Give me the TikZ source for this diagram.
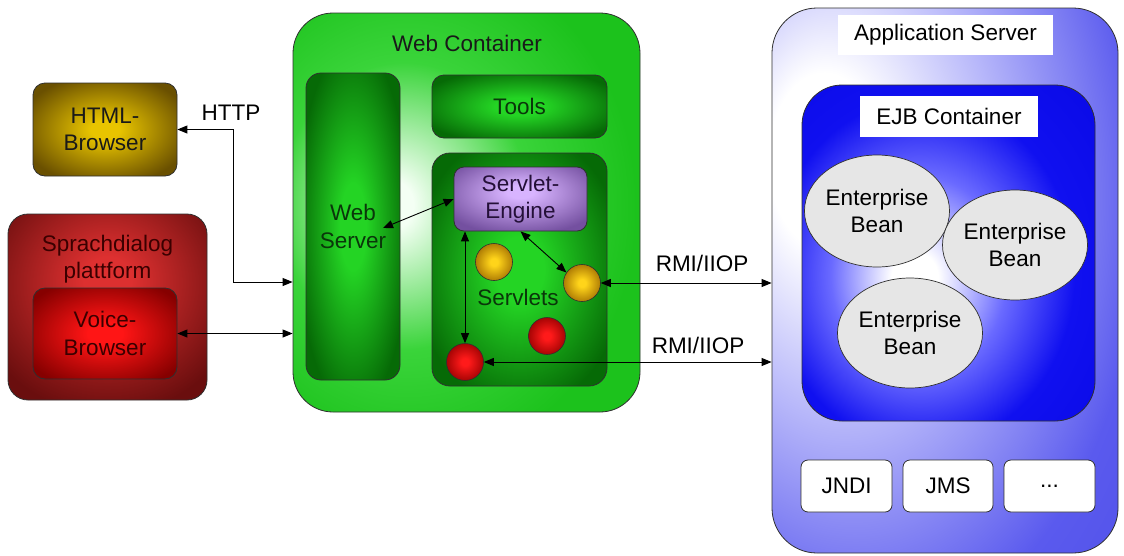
\documentclass[tikz,border=0pt]{standalone}
\usepackage{fontspec}
\setmainfont{Liberation Sans}
\usetikzlibrary{arrows.meta,calc,shapes.geometric}

% palette
\definecolor{htmlIn}{HTML}{E8C400}
\definecolor{htmlOut}{HTML}{6A5000}
\definecolor{sprIn}{HTML}{DD3030}
\definecolor{sprOut}{HTML}{6A0E0E}
\definecolor{voiceIn}{HTML}{FF1515}
\definecolor{voiceOut}{HTML}{860000}
\definecolor{wcIn}{HTML}{F4FFF4}
\definecolor{wcMid}{HTML}{3AD43A}
\definecolor{wcOut}{HTML}{1CC21C}
\definecolor{dgIn}{HTML}{24D424}
\definecolor{dgOut}{HTML}{066A06}
\definecolor{engIn}{HTML}{D8B4FF}
\definecolor{engOut}{HTML}{7450A0}
\definecolor{goldIn}{HTML}{FFD41A}
\definecolor{goldOut}{HTML}{A06C00}
\definecolor{redIn}{HTML}{FF1A1A}
\definecolor{redOut}{HTML}{960000}
\definecolor{appMid}{HTML}{B8B8FA}
\definecolor{appOut}{HTML}{5A5AEE}
\definecolor{appDeep}{HTML}{4040E0}
\definecolor{ejbMid}{HTML}{6A6AFF}
\definecolor{ejbOut}{HTML}{1010F0}
\definecolor{ejbDeep}{HTML}{0000D8}
\definecolor{beanFill}{HTML}{E6E6E6}
\definecolor{edge}{HTML}{303030}
\definecolor{inkGreen}{HTML}{0A360A}
\definecolor{inkPurple}{HTML}{241038}
\definecolor{inkRed}{HTML}{3A0000}

% glow shadings: highlight in the middle, darker towards the border
\pgfdeclareradialshading{shHtml}{\pgfpoint{0bp}{0bp}}{color(0bp)=(htmlIn); color(5bp)=(htmlIn); color(30bp)=(htmlOut); color(100bp)=(htmlOut)}
\pgfdeclareradialshading{shSpr}{\pgfpoint{0bp}{8bp}}{color(0bp)=(sprIn); color(6bp)=(sprIn); color(34bp)=(sprOut); color(100bp)=(sprOut)}
\pgfdeclareradialshading{shVoice}{\pgfpoint{0bp}{0bp}}{color(0bp)=(voiceIn); color(6bp)=(voiceIn); color(31bp)=(voiceOut); color(100bp)=(voiceOut)}
\pgfdeclareradialshading{shWC}{\pgfpoint{-11bp}{1bp}}{color(0bp)=(wcIn); color(3bp)=(wcIn); color(18bp)=(wcMid); color(32bp)=(wcOut); color(100bp)=(wcOut)}
\pgfdeclareradialshading{shDark}{\pgfpoint{0bp}{0bp}}{color(0bp)=(dgIn); color(7bp)=(dgIn); color(30bp)=(dgOut); color(100bp)=(dgOut)}
\pgfdeclareradialshading{shEng}{\pgfpoint{0bp}{6bp}}{color(0bp)=(engIn); color(5bp)=(engIn); color(32bp)=(engOut); color(100bp)=(engOut)}
\pgfdeclareradialshading{shGold}{\pgfpoint{0bp}{0bp}}{color(0bp)=(goldIn); color(5bp)=(goldIn); color(29bp)=(goldOut); color(100bp)=(goldOut)}
\pgfdeclareradialshading{shRed}{\pgfpoint{0bp}{0bp}}{color(0bp)=(redIn); color(5bp)=(redIn); color(29bp)=(redOut); color(100bp)=(redOut)}
\pgfdeclareradialshading{shApp}{\pgfpoint{-19bp}{12bp}}{color(0bp)=(white); color(8bp)=(white); color(22bp)=(appMid); color(40bp)=(appOut); color(70bp)=(appDeep); color(100bp)=(appDeep)}
\pgfdeclareradialshading{shEJB}{\pgfpoint{-6bp}{-4bp}}{color(0bp)=(white); color(4bp)=(white); color(15bp)=(ejbMid); color(26bp)=(ejbOut); color(60bp)=(ejbDeep); color(100bp)=(ejbDeep)}

\begin{document}
\begin{tikzpicture}[x=1pt,y=-1pt,
  every node/.style={font=\fontsize{22.5}{27.5}\selectfont, align=center, inner sep=0pt},
  box/.style={draw=edge, line width=0.8pt, shade, shading=#1},
  orb/.style={circle, draw=edge, line width=0.6pt, shade, shading=#1, minimum size=37pt},
  bean/.style={ellipse, draw=edge, line width=0.7pt, fill=beanFill},
  tag/.style={fill=white},
  service/.style={draw=edge, line width=0.8pt, fill=white, rounded corners=7pt,
    minimum width=91pt, minimum height=52pt},
  biarrow/.style={line width=0.9pt, {Triangle[length=10pt,width=8pt]}-{Triangle[length=10pt,width=8pt]}}
]
\fill[white] (0,0) rectangle (1124,555);
\useasboundingbox (0,0) rectangle (1124,555);

% ---------- clients ----------
\node[box=shHtml, rounded corners=12pt, minimum width=144pt, minimum height=93pt,
  text=black!90] (html) at (105,129.5) {HTML-\\Browser};

\node[box=shSpr, rounded corners=20pt, minimum width=199pt, minimum height=186pt] (spr) at (107.5,307) {};
\node[text=inkRed] (sprlbl) at (107.5,259) {Sprachdialog\\plattform};
\node[box=shVoice, rounded corners=12pt, minimum width=144pt, minimum height=91pt,
  text=inkRed] (voice) at (105,333.5) {Voice-\\Browser};

% ---------- web container ----------
\node[box=shWC, rounded corners=40pt, minimum width=347pt, minimum height=399pt] (wc) at (466.5,212.5) {};
\node[text=black!90] (wclbl) at (467,43) {Web Container};

\node[box=shDark, rounded corners=15pt, minimum width=94pt, minimum height=307pt,
  text=inkGreen] (ws) at (353,226.5) {Web\\Server};
\node[box=shDark, rounded corners=12pt, minimum width=175pt, minimum height=63pt,
  text=inkGreen] (tools) at (519.5,106.5) {Tools};
\node[box=shDark, rounded corners=18pt, minimum width=175pt, minimum height=233pt] (sc) at (519.5,269.5) {};

\node[box=shEng, rounded corners=10pt, minimum width=133pt, minimum height=64pt,
  text=inkPurple] (eng) at (520.5,199) {Servlet-\\Engine};

\node[orb=shGold] (g1) at (494,262) {};
\node[orb=shGold] (g2) at (582,283) {};
\node[orb=shRed]  (r1) at (547,336) {};
\node[orb=shRed]  (r2) at (465,362) {};
\node[text=inkGreen] (slbl) at (518,297) {Servlets};

% ---------- application server ----------
\node[box=shApp, rounded corners=45pt, minimum width=346pt, minimum height=545pt] (app) at (945,280.5) {};
\node[tag, minimum width=215pt, minimum height=40pt] (applbl) at (945.5,35) {Application Server};

\node[box=shEJB, rounded corners=40pt, minimum width=293pt, minimum height=336pt] (ejb) at (948.5,253) {};
\node[tag, minimum width=178pt, minimum height=41pt] (ejblbl) at (949,116.5) {EJB Container};

\node[bean, minimum width=130pt, minimum height=112pt] (b1) at (877,211) {Enterprise\\Bean};
\node[bean, minimum width=134pt, minimum height=110pt] (b2) at (1015,245) {Enterprise\\Bean};
\node[bean, minimum width=132pt, minimum height=110pt] (b3) at (910,333) {Enterprise\\Bean};

\node[service] (jndi) at (846.5,486) {JNDI};
\node[service, minimum width=90pt] (jms) at (948,486) {JMS};
\node[service] (more) at (1049.5,486) {...};

% ---------- connectors ----------
\coordinate (httpturn) at (233,282);
\draw[biarrow] (html.east) -| (httpturn) -- (httpturn -| wc.west);
\node (httplbl) at (231,113) {HTTP};

\draw[biarrow] (voice.east) -- (voice.east -| wc.west);

\coordinate (wsport) at (383,228);
\draw[biarrow] (wsport) -- (eng.west);
\draw[biarrow] (eng.south) -- (g2.146);
\draw[biarrow] (eng.south -| r2.north) -- (r2.north);

\draw[biarrow] (g2.east) -- (g2.east -| app.west);
\node (rmi1) at (702,263) {RMI/IIOP};
\draw[biarrow] (r2.east) -- (r2.east -| app.west);
\node (rmi2) at (698,345) {RMI/IIOP};
\end{tikzpicture}
\end{document}
